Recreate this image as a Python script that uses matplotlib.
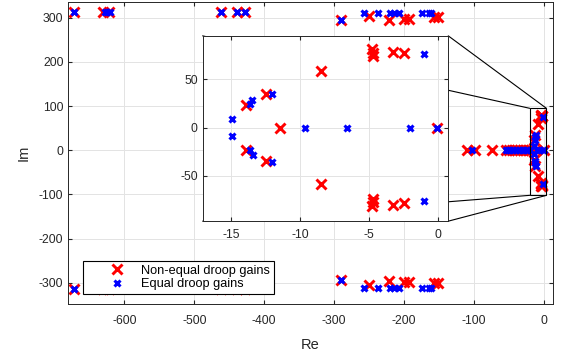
import matplotlib
matplotlib.use('Agg')

import matplotlib.pyplot as plt
from matplotlib.patches import Rectangle, ConnectionPatch

plt.rcParams['font.family'] = ['Liberation Sans', 'DejaVu Sans']
plt.rcParams['axes.unicode_minus'] = False

# eigenvalues, non-equal droop gains (red)
neq_re = [-672, -630, -622, -462, -439, -427, -290, -250, -222, -200, -193, -157, -152,
          -672, -630, -622, -462, -439, -427, -290, -250, -222, -200, -193, -157, -152,
          -110, -99, -74, -54, -50, -46, -42, -38, -34, -30, -26, -22, -19,
          -4.8, -4.7, -4.7, -3.3, -2.5, -8.5, -12.5, -13.9, -11.45, -0.07,
          -4.8, -4.7, -4.7, -3.3, -2.5, -8.5, -12.5, -13.9]
neq_im = [313, 313, 313, 313, 313, 313, 294, 305, 296, 298, 298, 301, 301,
          -313, -313, -313, -313, -313, -313, -294, -305, -296, -298, -298, -301, -301,
          0, 0, 0, 0, 0, 0, 0, 0, 0, 0, 0, 0, 0,
          81, 77, 74, 78, 77, 59, 35, 23, 0, 0,
          -81, -77, -74, -80, -78, -59, -35, -23]

# eigenvalues, equal droop gains (blue)
eq_re = [-672, -628, -624, -620, -462, -439, -427, -290, -258, -238, -220, -214, -207, -174, -165, -161,
         -672, -628, -624, -620, -462, -439, -427, -290, -258, -238, -220, -214, -207, -174, -165, -161,
         -103, -55, -52, -48, -44, -40, -36, -32, -28, -24, -20,
         -1.0, -12.0, -13.5, -13.6, -14.95, -9.65, -6.63, -2.05, -0.07,
         -1.0, -12.0, -13.4, -13.6, -14.95]
eq_im = [313, 313, 313, 313, 313, 313, 313, 294, 311, 311, 311, 311, 311, 311, 311, 311,
         -313, -313, -313, -313, -313, -313, -313, -294, -311, -311, -311, -311, -311, -311, -311, -311,
         0, 0, 0, 0, 0, 0, 0, 0, 0, 0, 0,
         76, 35, 29, 24, 9, 0, 0, 0, 0,
         -76, -36, -28, -23.5, -9]

fig = plt.figure(figsize=(5.66, 3.55), dpi=100)
ax = fig.add_axes([0.1207, 0.1437, 0.856, 0.851])

red = dict(color='#ff0000', marker='x', linestyle='none', markersize=7.5, markeredgewidth=2.1)
blue = dict(color='#0000ff', marker='x', linestyle='none', markersize=4.5, markeredgewidth=2.2)

ax.plot(neq_re, neq_im, label='Non-equal droop gains', **red)
ax.plot(eq_re, eq_im, label='Equal droop gains', **blue)

ax.set_xlim(-680, 12.5)
ax.set_ylim(-348, 336)
ax.set_xticks([-600, -500, -400, -300, -200, -100, 0])
ax.set_yticks([-300, -200, -100, 0, 100, 200, 300])
ax.set_xlabel('Re', fontsize=10.5, color='#262626', labelpad=8)
ax.set_ylabel('Im', fontsize=10.5, color='#262626', labelpad=6)

ax.grid(True, color='#e3e3e3', linewidth=0.7)
ax.set_axisbelow(True)
ax.tick_params(direction='in', top=True, right=True, labelsize=8.8, colors='#262626', length=3)
ax.tick_params(axis='x', pad=8)
for s in ax.spines.values():
    s.set_color('#262626')
    s.set_linewidth(0.7)

leg = ax.legend(loc='lower left', bbox_to_anchor=(0.031, 0.032), borderaxespad=0,
                fontsize=9.2, fancybox=False, edgecolor='black', framealpha=1,
                handlelength=4.7, handletextpad=-0.45, labelspacing=0.15, borderpad=0.3)
leg.get_frame().set_linewidth(0.8)

# zoom box on the main axes
rx0, rx1, ry0, ry1 = -20.4, 3.4, -102, 95
ax.add_patch(Rectangle((rx0, ry0), rx1 - rx0, ry1 - ry0, fill=False,
                       edgecolor='black', linewidth=0.8, zorder=5))

# inset
axi = fig.add_axes([0.358, 0.377, 0.434, 0.522], zorder=3)
axi.plot(neq_re, neq_im, **red)
axi.plot(eq_re, eq_im, **blue)
axi.set_xlim(-17.05, 0.72)
axi.set_ylim(-97, 95)
axi.set_xticks([-15, -10, -5, 0])
axi.set_yticks([-50, 0, 50])
axi.grid(True, color='#e3e3e3', linewidth=0.7)
axi.set_axisbelow(True)
axi.tick_params(direction='in', top=True, right=True, labelsize=8.8, colors='#262626', length=3)
axi.tick_params(axis='x', pad=6)
for s in axi.spines.values():
    s.set_color('#262626')
    s.set_linewidth(0.7)

# connector lines, drawn on the main axes so the inset covers them
for (fx, fy), (dx, dy) in [((0, 1), (rx0, ry1)), ((1, 1), (rx1, ry1)),
                           ((0, 0), (rx0, ry0)), ((1, 0), (rx1, ry0))]:
    con = ConnectionPatch(xyA=(fx, fy), coordsA=axi.transAxes, xyB=(dx, dy), coordsB=ax.transData,
                          color='black', linewidth=0.8)
    con.set_clip_on(False)
    ax.add_artist(con)

fig.savefig('out.png', dpi=100)
